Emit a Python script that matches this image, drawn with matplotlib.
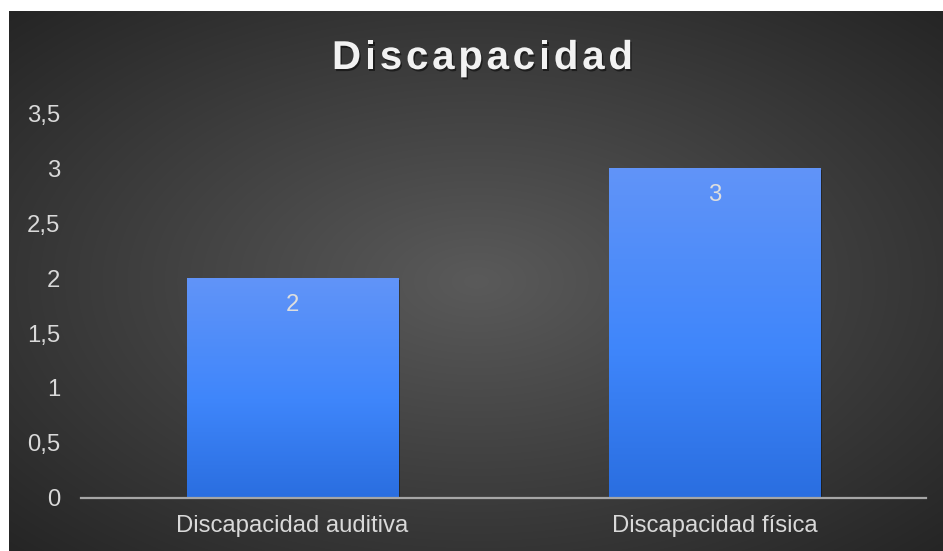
import numpy as np
import matplotlib
matplotlib.use("Agg")
import matplotlib.pyplot as plt
from matplotlib.colors import LinearSegmentedColormap
import matplotlib.patheffects as pe

categories = ["Discapacidad auditiva", "Discapacidad física"]
values = [2, 3]
yticks = [0, 0.5, 1, 1.5, 2, 2.5, 3, 3.5]
ytick_labels = ["0", "0,5", "1", "1,5", "2", "2,5", "3", "3,5"]
title = "Discapacidad"

plt.rcParams['font.family'] = ['Liberation Sans', 'DejaVu Sans']

W, H = 943, 551
fig = plt.figure(figsize=(W / 100, H / 100), dpi=100, facecolor="white")

# radial gradient background
bg = fig.add_axes([9 / W, 0, (W - 9) / W, (H - 11) / H])
bg.set_axis_off()
ny, nx = 540, 934
yy, xx = np.mgrid[0:ny, 0:nx]
cx, cy = nx * 0.5, ny * 0.5
d = np.sqrt(((xx - cx) / (nx / 2)) ** 2 + ((yy - cy) / (ny / 2)) ** 2) / np.sqrt(2)
d = np.clip(d, 0, 1)
c_center, c_edge = 0x5a / 255, 0x25 / 255
g = c_center + (c_edge - c_center) * d
img = np.dstack([g, g, g])
bg.imshow(img, extent=[0, 1, 0, 1], aspect="auto", origin="upper")
bg.set_xlim(0, 1)
bg.set_ylim(0, 1)

# main axes
ax = fig.add_axes([81 / W, 53 / H, 845 / W, 385 / H])
ax.set_facecolor("none")
ax.set_xlim(-0.5, 1.5)
ax.set_ylim(0, 3.5)
for s in ["top", "right", "left"]:
    ax.spines[s].set_visible(False)
ax.spines["bottom"].set_color("#a6a6a6")
ax.spines["bottom"].set_linewidth(1.6)
ax.spines["bottom"].set_zorder(5)

x = np.arange(len(categories))
ax.set_xticks(x)
ax.set_xticklabels(categories)
ax.set_yticks(yticks)
ax.set_yticklabels(ytick_labels)
ax.tick_params(axis="both", length=0, colors="#d9d9d9", labelsize=17.2)
ax.tick_params(axis="y", pad=15)
ax.tick_params(axis="x", pad=12)

cmap = LinearSegmentedColormap.from_list(
    "barg", [(0, "#2a6ee0"), (0.45, "#3f86fb"), (1.0, "#6194f8")])
bars = ax.bar(x, values, width=0.5, color="#4088fc", zorder=2)
grad = np.linspace(0, 1, 256).reshape(-1, 1)
for b in bars:
    b.set_path_effects([pe.SimplePatchShadow(offset=(1.5, -1.5), shadow_rgbFace="black", alpha=0.35), pe.Normal()])
    x0, y0 = b.get_x(), b.get_y()
    im = ax.imshow(grad, cmap=cmap, origin="lower", aspect="auto",
                   extent=[x0, x0 + b.get_width(), y0, y0 + b.get_height()], zorder=3)
    im.set_clip_path(b)
ax.set_xlim(-0.5, 1.5)
ax.set_ylim(0, 3.5)

for xi, v in zip(x, values):
    ax.annotate(str(v), (xi, v), xytext=(0, -27 * 0.72), textcoords="offset points",
                ha="center", va="center", color="#dedede", fontsize=17.2, zorder=6)

# letter-spaced bold title
renderer = fig.canvas.get_renderer()
fs = 29
widths = []
for ch in title:
    t = fig.text(0, 0, ch, fontsize=fs, fontweight="bold")
    widths.append(t.get_window_extent(renderer).width)
    t.remove()
target_left, target_right = 332, 633
spacing = (target_right - target_left - sum(widths)) / (len(title) - 1)
xp = target_left
baseline = H - 69
for ch, w in zip(title, widths):
    fig.text(xp / W, baseline / H, ch, fontsize=fs, fontweight="bold", color="#f2f2f2",
             va="baseline", ha="left",
             path_effects=[pe.withSimplePatchShadow(offset=(1, -1.5), shadow_rgbFace="black", alpha=0.5)])
    xp += w + spacing

fig.savefig("out.png", dpi=100, facecolor="white")
